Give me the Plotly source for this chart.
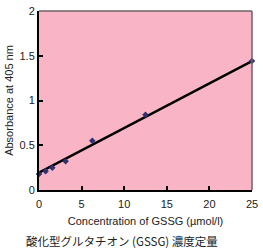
import plotly.graph_objects as go

conc = [0, 0.78, 1.56, 3.125, 6.25, 12.5, 25]
absorb = [0.18, 0.21, 0.25, 0.32, 0.55, 0.84, 1.44]
fit_x = [0, 25]
fit_y = [0.195, 1.44]
x_ticks = [0, 5, 10, 15, 20, 25]
y_ticks = [0, 0.5, 1, 1.5, 2]
y_tick_text = ["0", "0.5", "1", "1.5", "2"]

fig = go.Figure()
fig.add_trace(go.Scatter(x=fit_x, y=fit_y, mode="lines",
                         line=dict(color="black", width=2.5), showlegend=False,
                         cliponaxis=False))
fig.add_trace(go.Scatter(x=conc, y=absorb, mode="markers",
                         marker=dict(symbol="diamond", size=5, color="#2f3070"),
                         showlegend=False, cliponaxis=False))

font = dict(family="Liberation Sans, Arial, sans-serif", size=11, color="#222")
fig.update_layout(
    width=263, height=249,
    margin=dict(l=39, r=5, t=5, b=59),
    paper_bgcolor="white", plot_bgcolor="#F9B5C6",
    font=font,
    xaxis=dict(range=[0, 25], tickvals=x_ticks, ticks="inside", ticklen=4,
               tickwidth=2, tickcolor="black", showline=True, linecolor="black",
               linewidth=2, showgrid=False, zeroline=False, ticklabeloverflow="allow",
               ticklabelstandoff=3,
               title=dict(text="Concentration of GSSG (µmol/l)", standoff=8, font=font)),
    yaxis=dict(range=[0, 2], tickvals=y_ticks, ticktext=y_tick_text, ticks="inside",
               ticklen=4, tickwidth=2, tickcolor="black", showline=True,
               linecolor="black", linewidth=2, showgrid=False, zeroline=False,
               ticklabeloverflow="allow",
               title=dict(text="Absorbance at 405 nm", standoff=4, font=font)),
    shapes=[
        dict(type="line", xref="paper", yref="paper", x0=0, x1=1, y0=1, y1=1,
             line=dict(color="#6b6366", width=1.5)),
        dict(type="line", xref="paper", yref="paper", x0=1, x1=1, y0=0, y1=1,
             line=dict(color="#6b6366", width=1.5)),
    ],
    annotations=[
        dict(text="酸化型グルタチオン (GSSG) 濃度定量", xref="paper", yref="paper",
             x=0.39, y=-0.285, xanchor="center", yanchor="middle", showarrow=False,
             font=dict(family="Noto Sans CJK JP", size=11.5, color="#222")),
    ],
)
fig.write_html("out.html")
